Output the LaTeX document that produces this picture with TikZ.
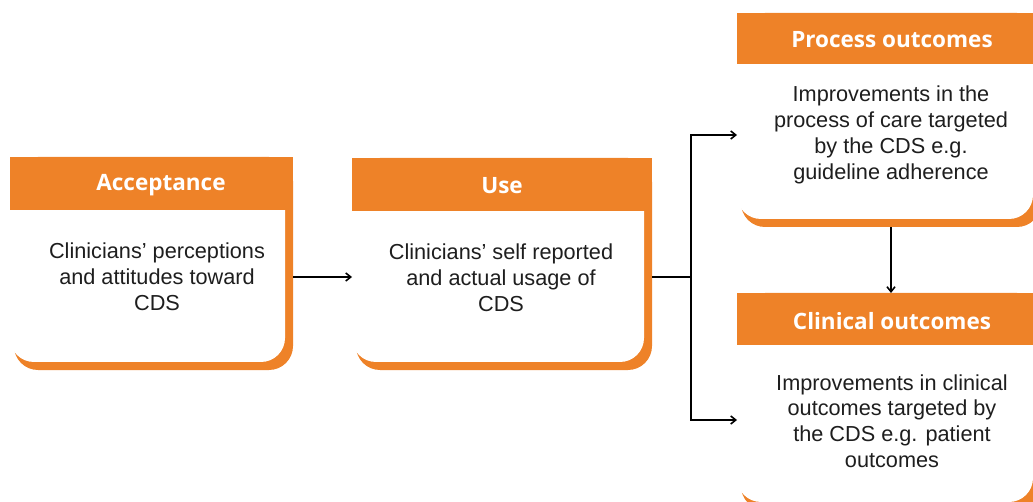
\documentclass[tikz,border=0pt]{standalone}
\usepackage{fontspec}
\setmainfont{Liberation Sans}
\newfontfamily\headfont{Open Sans}
\usetikzlibrary{arrows.meta}
\definecolor{cardorange}{RGB}{238,130,40}
\definecolor{bodyink}{RGB}{30,30,30}
\tikzset{
  hdr/.style={fill=cardorange, inner sep=0pt, anchor=north west},
  hdrtext/.style={text=white, font=\headfont\bfseries\fontsize{22.5}{27}\selectfont},
  cardbody/.style={text=bodyink, align=center, inner sep=0pt,
    font=\fontsize{21.7}{25.8}\selectfont},
  cardframe/.style={draw=none, inner sep=0pt, anchor=north west},
  arr/.style={draw=black, line width=1.6pt, -{Straight Barb[length=5pt,width=8pt]}},
  link/.style={draw=black, line width=1.6pt},
}
% card: #1 name, #2 left, #3 top, #4 right, #5 header bottom, #6 orange bottom
\newcommand\drawcard[6]{%
  \node[cardframe, minimum width=#4-#2, minimum height=#6-#3] (#1) at (#2,#3) {};
  \fill[cardorange, rounded corners=24] (#2+4,#3) rectangle (#4,#6);
  \fill[white, rounded corners=24] (#2,#3) rectangle (#4-8,#6-8);
  \node[hdr, minimum width=#4-#2, minimum height=#5-#3] (#1H) at (#2,#3) {};
}
\begin{document}
\begin{tikzpicture}[x=1pt, y=-1pt]
\useasboundingbox (0,0) rectangle (1033,502);
\clip (0,0) rectangle (1033,502);

% cards
\drawcard{acc}{10}{157}{293}{210}{370}
\drawcard{use}{352}{158}{652}{211}{370}
\drawcard{proc}{737}{13}{1041}{64}{227}
\drawcard{clin}{737}{293}{1041}{345}{510}

% header titles
\node[hdrtext] (accT) at (161,185) {Acceptance};
\node[hdrtext] (useT) at (502,186) {Use};
\node[hdrtext] (procT) at (892,40) {Process outcomes};
\node[hdrtext] (clinT) at (892,321) {Clinical outcomes};

% body texts
\node[cardbody] (accB) at (157,277) {Clinicians’ perceptions\\and attitudes toward\\CDS};
\node[cardbody] (useB) at (501,278) {Clinicians’ self reported\\and actual usage of\\CDS};
\node[cardbody] (procB) at (891,135) {Improvements in the\\process of care targeted\\by the CDS e.g.\\guideline adherence};
\node[cardbody] (clinB) at (892,421) {Improvements in clinical\\outcomes targeted by\\the CDS e.g. patient\\outcomes};

% connectors
\coordinate (split) at (691,277);
\draw[arr] (acc.east |- 0,277) -- (use.west |- 0,277);
\draw[link] (use.east |- 0,277) -- (split);
\draw[arr] (split) |- (proc.west |- 0,135);
\draw[arr] (split) |- (clin.west |- 0,420);
\draw[arr] (proc.south -| 891,0) -- (clin.north -| 891,0);
\end{tikzpicture}
\end{document}
